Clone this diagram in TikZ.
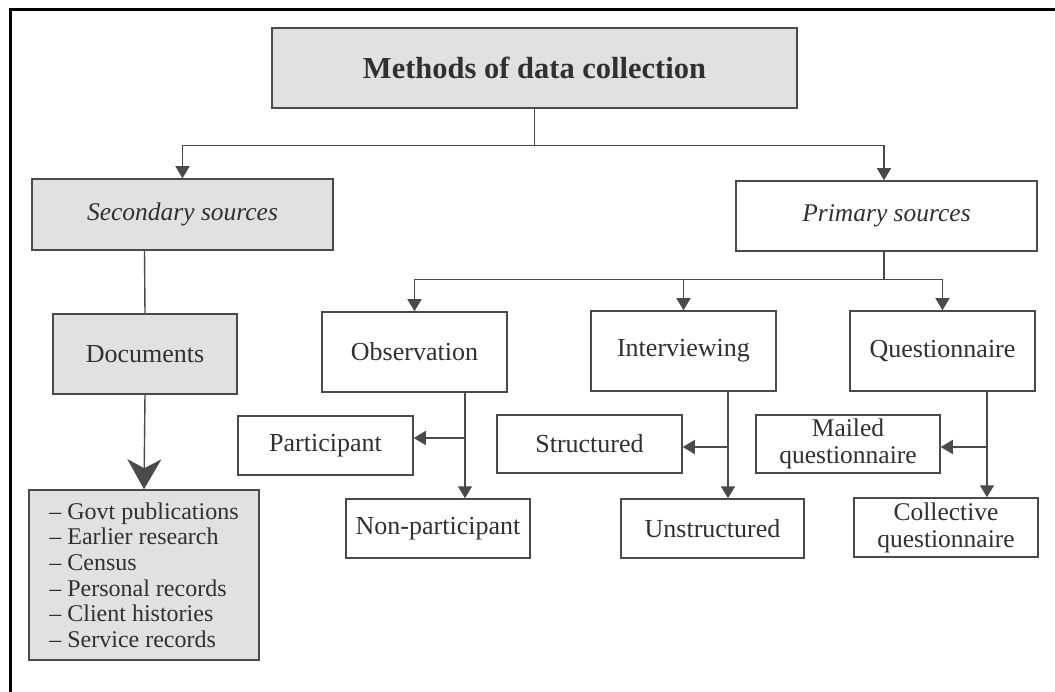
\documentclass[tikz,border=0pt]{standalone}
\usepackage{fontspec}
\setmainfont{Liberation Serif}
\usetikzlibrary{arrows.meta,calc}
\definecolor{ink}{HTML}{303030}
\definecolor{edge}{HTML}{4A4A4A}
\definecolor{shade}{HTML}{E2E1E1}
\tikzset{
  box/.style={draw=edge, line width=1.5pt, text=ink, align=center, inner sep=0pt,
    font=\fontsize{26}{28}\selectfont},
  shaded/.style={box, fill=shade},
  conn/.style={draw=edge, line width=1.4pt},
  arr/.style={conn, -{Triangle[width=14pt,length=12pt]}},
  bigarr/.style={conn, -{Stealth[width=34pt,length=30pt,inset=9pt]}},
}
\begin{document}
\begin{tikzpicture}[x=1pt,y=-1pt]
\useasboundingbox (0,0) rectangle (1055,692);
\fill[white] (0,0) rectangle (1055,692);
% frame (only top and left edges visible)
\draw[line width=3pt, black] (10,700) -- (10,10) -- (1065,10);

% nodes
\node[shaded, minimum width=525pt, minimum height=80pt, font=\fontsize{30.5}{33}\selectfont\bfseries]
  (methods) at (534.5,68) {Methods of data collection};
\node[shaded, minimum width=301pt, minimum height=71pt, font=\fontsize{25.5}{28}\selectfont\itshape]
  (secondary) at (182.5,214.5) {Secondary sources};
\node[box, minimum width=301pt, minimum height=70pt, font=\fontsize{25.5}{28}\selectfont\itshape]
  (primary) at (886.5,216) {Primary sources};
\node[shaded, minimum width=184pt, minimum height=80pt] (documents) at (145,354) {Documents};
\node[box, minimum width=185pt, minimum height=80pt] (observation) at (414.5,352) {Observation};
\node[box, minimum width=185pt, minimum height=80pt] (interviewing) at (683.5,351) {Interviewing};
\node[box, minimum width=185pt, minimum height=80pt] (questionnaire) at (942.5,351) {Questionnaire};
\node[box, minimum width=175pt, minimum height=59pt] (participant) at (325.5,445.5) {Participant};
\node[box, minimum width=185pt, minimum height=58pt] (structured) at (589.5,444) {Structured};
\node[box, minimum width=184pt, minimum height=58pt, font=\fontsize{25.5}{26.5}\selectfont]
  (mailed) at (848,444) {Mailed\\questionnaire};
\node[box, minimum width=184pt, minimum height=59pt] (nonpart) at (438,528.5) {Non-participant};
\node[box, minimum width=183pt, minimum height=59pt] (unstructured) at (712.5,528.5) {Unstructured};
\node[box, minimum width=184pt, minimum height=59pt, font=\fontsize{25.5}{27}\selectfont]
  (collective) at (946,527.5) {Collective\\questionnaire};
\node[shaded, minimum width=230pt, minimum height=170pt, align=left,
  font=\fontsize{24}{25.6}\selectfont] (list) at (144,575)
  {\textendash\ Govt publications\\
   \textendash\ Earlier research\\
   \textendash\ Census\\
   \textendash\ Personal records\\
   \textendash\ Client histories\\
   \textendash\ Service records};

% connectors from the title
\coordinate (j1) at ($(methods.south)+(0,37)$);
\draw[conn] (methods.south) -- (j1);
\draw[arr] (j1) -| (secondary.north);
\draw[arr] (j1) -| ([xshift=-2.5pt]primary.north);

% secondary branch
\draw[conn] ([xshift=-38pt]secondary.south) -- (documents.north);
\draw[bigarr] (documents.south) -- (list.north);

% primary branch
\coordinate (j2) at ($([xshift=-2.5pt]primary.south)+(0,28)$);
\draw[conn] ([xshift=-2.5pt]primary.south) -- (j2);
\draw[arr] (j2) -| (observation.north);
\draw[arr] (j2) -| (interviewing.north);
\draw[arr] (j2) -| (questionnaire.north);

% observation
\coordinate (ob) at (465,438);
\draw[arr] (observation.south -| ob) -- (nonpart.north -| ob);
\draw[arr] (ob) -- (ob -| participant.east);

% interviewing
\coordinate (iv) at (728,447);
\draw[arr] (interviewing.south -| iv) -- (unstructured.north -| iv);
\draw[arr] (iv) -- (iv -| structured.east);

% questionnaire
\coordinate (qu) at (987,447);
\draw[arr] (questionnaire.south -| qu) -- (collective.north -| qu);
\draw[arr] (qu) -- (qu -| mailed.east);
\end{tikzpicture}
\end{document}
